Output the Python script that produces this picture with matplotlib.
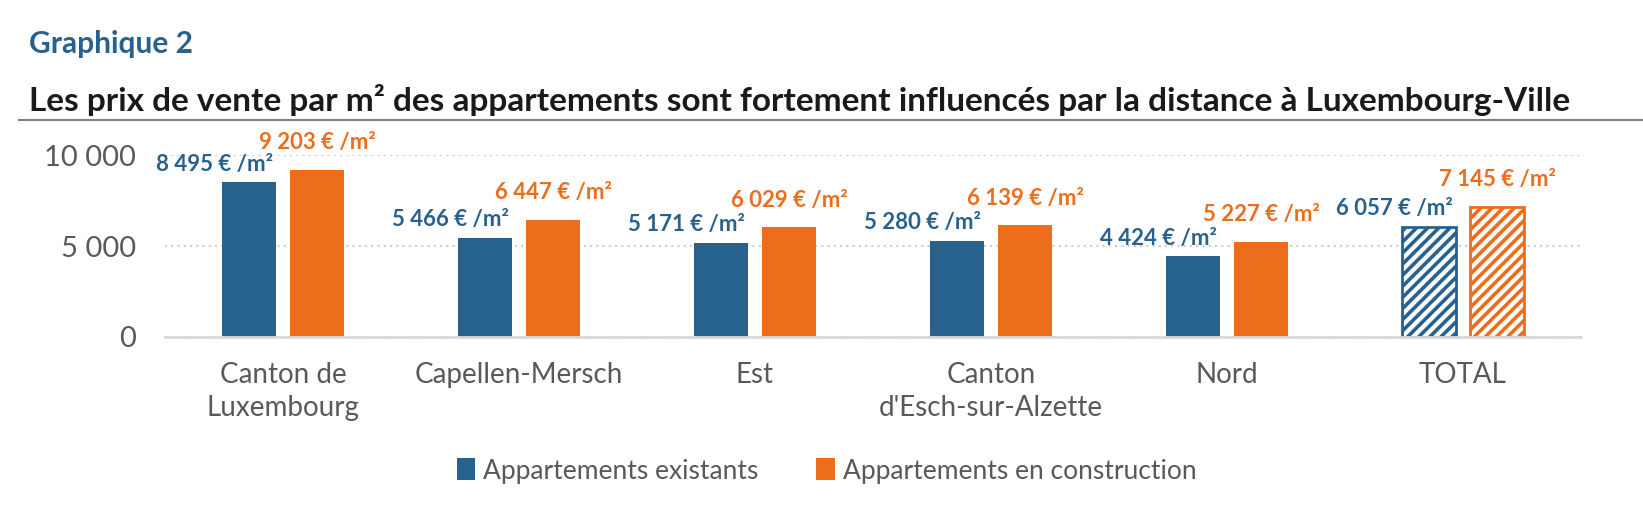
import matplotlib.pyplot as plt
from matplotlib.ticker import FuncFormatter
from matplotlib.patches import Patch
import numpy as np

plt.rcParams['font.family'] = ['Lato', 'DejaVu Sans']
plt.rcParams['hatch.linewidth'] = 2.6

categories = ["Canton de\nLuxembourg", "Capellen-Mersch", "Est",
              "Canton\nd'Esch-sur-Alzette", "Nord", "TOTAL"]
existants = [8495, 5466, 5171, 5280, 4424, 6057]
construction = [9203, 6447, 6029, 6139, 5227, 7145]
series_names = ["Appartements existants", "Appartements en construction"]

blue = '#27628f'
orange = '#ec6e1c'
grey_txt = '#595959'


def fmt(v):
    return f"{v:,}".replace(",", " ")


fig = plt.figure(figsize=(16.43, 5.14), dpi=100)
ax = fig.add_axes([0.1004, 0.3444, 0.8619, 0.354])

x = np.arange(len(categories))
w = 0.229
off = 0.145
n = len(categories)

for i in range(n):
    total = categories[i] == "TOTAL"
    if total:
        ax.bar(x[i] - off, existants[i], w, facecolor='white', edgecolor=blue,
               hatch='///', linewidth=2)
        ax.bar(x[i] + off, construction[i], w, facecolor='white', edgecolor=orange,
               hatch='///', linewidth=2)
    else:
        ax.bar(x[i] - off, existants[i], w, color=blue)
        ax.bar(x[i] + off, construction[i], w, color=orange)
    ax.annotate(fmt(existants[i]) + " € /m²", (x[i] - off, existants[i]),
                xytext=(-25, 13), textcoords='offset points', ha='center', va='center',
                color=blue, fontsize=16, fontweight='bold', annotation_clip=False)
    ax.annotate(fmt(construction[i]) + " € /m²", (x[i] + off, construction[i]),
                xytext=(0, 19.5), textcoords='offset points', ha='center', va='center',
                color=orange, fontsize=16, fontweight='bold', annotation_clip=False)

ax.set_xlim(-0.5, n - 0.5)
ax.set_ylim(0, 10000)
ax.set_yticks([0, 5000, 10000])
ax.yaxis.set_major_formatter(FuncFormatter(lambda v, p: fmt(int(v))))
ax.set_xticks(x)
ax.set_xticklabels(categories, fontsize=20, color=grey_txt, linespacing=1.35)
ax.tick_params(axis='y', length=0, pad=21, labelsize=21, labelcolor=grey_txt)
ax.tick_params(axis='x', length=0, pad=18)

for s in ['top', 'right', 'left']:
    ax.spines[s].set_visible(False)
ax.spines['bottom'].set_color('#d9d9d9')
ax.spines['bottom'].set_linewidth(2)
ax.set_axisbelow(True)
ax.yaxis.grid(True, linestyle=(0, (1, 2)), color='#cccccc', linewidth=1.5)

handles = [Patch(facecolor=blue), Patch(facecolor=orange)]
fig.legend(handles, series_names, loc='center', bbox_to_anchor=(0.503, 0.0837),
           ncol=2, frameon=False, fontsize=19, labelcolor=grey_txt,
           handlelength=0.7, handleheight=0.9, handletextpad=0.3, columnspacing=2.2)

fig.text(29 / 1643, 1 - 44 / 514, "Graphique 2", color=blue, fontsize=21.5,
         fontweight='bold', va='center', ha='left')
fig.text(29 / 1643, 1 - 100 / 514,
         "Les prix de vente par m² des appartements sont fortement influencés par la distance à Luxembourg-Ville",
         color='#1a1a1a', fontsize=24, fontweight='bold', va='center', ha='left')
fig.add_artist(plt.Line2D([19 / 1643, 1], [1 - 120 / 514, 1 - 120 / 514],
                          color='#7f7f7f', linewidth=1.5))

fig.savefig('out.png', dpi=100)
